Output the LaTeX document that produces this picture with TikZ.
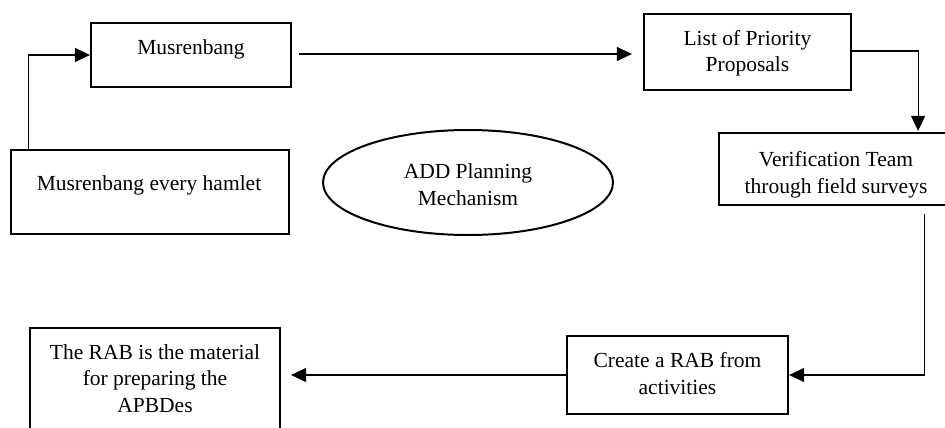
\documentclass[tikz,border=0pt]{standalone}
\usepackage{fontspec}
\setmainfont{Liberation Serif}
\usetikzlibrary{arrows.meta,shapes.geometric}
\begin{document}
\begin{tikzpicture}[x=1pt,y=-1pt,
  box/.style={draw, line width=2.2pt, rectangle, inner sep=0pt},
  oval/.style={draw, line width=2pt, ellipse, inner sep=0pt, minimum width=290pt, minimum height=105pt},
  txt/.style={inner sep=0pt, align=center, anchor=base, font=\fontsize{21.5}{26.5}\selectfont},
  conn/.style={line width=1.1pt, -{Triangle[length=15pt,width=14pt]}}]
\useasboundingbox (0,0) rectangle (945,428);
% boxes
\node[box, minimum width=200pt, minimum height=64pt] (mus) at (191,55) {};
\node[box, minimum width=207pt, minimum height=76pt] (list) at (747.5,52) {};
\node[box, minimum width=234pt, minimum height=72pt] (verif) at (836,169) {};
\node[box, minimum width=278pt, minimum height=84pt] (ham) at (150,192) {};
\node[oval] (ell) at (468,182.5) {};
\node[box, minimum width=221pt, minimum height=78pt] (create) at (677.5,375) {};
\node[box, minimum width=250pt, minimum height=112pt] (rab) at (155,384) {};
% texts (anchor base = baseline of the last line)
\node[txt] (mus-t) at (191,55) {Musrenbang};
\node[txt] (list-t) at (747.5,72) {List of Priority\\Proposals};
\node[txt] (verif-t) at (836,193) {Verification Team\\through field surveys};
\node[txt] (ham-t) at (149,190) {Musrenbang every hamlet};
\node[txt] (ell-t) at (468,205) {ADD Planning\\Mechanism};
\node[txt] (create-t) at (677.5,394) {Create a RAB from\\activities};
\node[txt] (rab-t) at (155,412) {The RAB is the material\\for preparing the\\APBDes};
% connectors
\draw[conn] ([xshift=19pt]ham.north west) |- (mus.west);
\draw[conn, shorten <=7pt, shorten >=11pt] ([yshift=1pt]mus.east) -- ([yshift=1pt]mus.east -| list.west);
\draw[conn, shorten >=1pt] ([yshift=1pt]list.east) -| ([xshift=-36pt]verif.north east);
\draw[conn] ([xshift=-30pt,yshift=-8pt]verif.south east) |- (create.east);
\draw[conn, shorten >=10pt] (create.west) -- (create.west -| rab.east);
\end{tikzpicture}
\end{document}
